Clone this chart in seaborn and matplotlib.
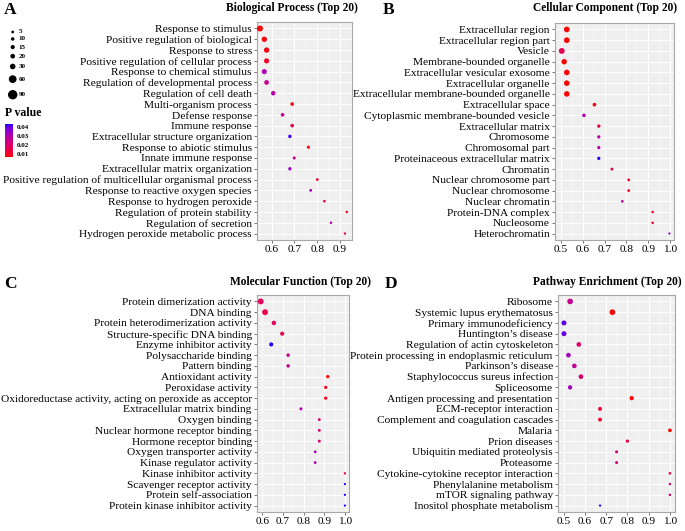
import numpy as np
import pandas as pd
import matplotlib
matplotlib.use("Agg")
import matplotlib.pyplot as plt
import seaborn as sns
from matplotlib.colors import ListedColormap, Normalize
from matplotlib.ticker import MultipleLocator, FormatStrFormatter
import matplotlib as mpl

# ---------------- data ----------------
bp_terms = ["Response to stimulus", "Positive regulation of biological", "Response to stress",
            "Positive regulation of cellular process", "Response to chemical stimulus",
            "Regulation of developmental process", "Regulation of cell death", "Multi-organism process",
            "Defense response", "Immune response", "Extracellular structure organization",
            "Response to abiotic stimulus", "Innate immune response", "Extracellular matrix organization",
            "Positive regulation of multicellular organismal process", "Response to reactive oxygen species",
            "Response to hydrogen peroxide", "Regulation of protein stability", "Regulation of secretion",
            "Hydrogen peroxide metabolic process"]
bp_ratio = [0.549, 0.568, 0.578, 0.578, 0.568, 0.578, 0.607, 0.690, 0.648, 0.690,
            0.680, 0.761, 0.699, 0.680, 0.800, 0.771, 0.831, 0.929, 0.860, 0.921]
bp_count = [47, 37, 37, 33, 33, 28, 24, 15, 15, 15, 13, 10, 10, 12, 7, 7, 6, 5, 5, 4]
bp_p = [0.005, 0.008, 0.008, 0.010, 0.031, 0.026, 0.030, 0.008, 0.027, 0.014,
        0.042, 0.007, 0.025, 0.034, 0.010, 0.032, 0.015, 0.009, 0.030, 0.018]

cc_terms = ["Extracellular region", "Extracellular region part", "Vesicle", "Membrane-bounded organelle",
            "Extracellular vesicular exosome", "Extracellular organelle",
            "Extracellular membrane-bounded organelle", "Extracellular space",
            "Cytoplasmic membrane-bounded vesicle", "Extracellular matrix", "Chromosome",
            "Chromosomal part", "Proteinaceous extracellular matrix", "Chromatin",
            "Nuclear chromosome part", "Nuclear chromosome", "Nuclear chromatin",
            "Protein-DNA complex", "Nucleosome", "Heterochromatin"]
cc_ratio = [0.526, 0.526, 0.503, 0.514, 0.526, 0.526, 0.526, 0.653, 0.605, 0.673,
            0.673, 0.673, 0.673, 0.733, 0.810, 0.810, 0.781, 0.920, 0.920, 0.997]
cc_count = [42, 42, 45, 38, 40, 40, 40, 15, 14, 12, 11, 11, 11, 8, 7, 7, 6, 5, 5, 3]
cc_p = [0.003, 0.003, 0.016, 0.006, 0.003, 0.003, 0.003, 0.008, 0.030, 0.012,
        0.030, 0.030, 0.043, 0.015, 0.008, 0.008, 0.028, 0.010, 0.012, 0.038]

mf_terms = ["Protein dimerization activity", "DNA binding", "Protein heterodimerization activity",
            "Structure-specific DNA binding", "Enzyme inhibitor activity", "Polysaccharide binding",
            "Pattern binding", "Antioxidant activity", "Peroxidase activity",
            "Oxidoreductase activity, acting on peroxide as acceptor", "Extracellular matrix binding",
            "Oxygen binding", "Nuclear hormone receptor binding", "Hormone receptor binding",
            "Oxygen transporter activity", "Kinase regulator activity", "Kinase inhibitor activity",
            "Scavenger receptor activity", "Protein self-association", "Protein kinase inhibitor activity"]
mf_ratio = [0.592, 0.613, 0.656, 0.696, 0.643, 0.725, 0.725, 0.917, 0.907, 0.907,
            0.787, 0.876, 0.876, 0.876, 0.856, 0.856, 1.000, 1.000, 1.000, 1.000]
mf_count = [45, 45, 25, 20, 20, 13, 13, 12, 11, 11, 9, 8, 8, 8, 7, 7, 4, 3, 3, 3]
mf_p = [0.018, 0.015, 0.018, 0.016, 0.043, 0.027, 0.027, 0.006, 0.008, 0.008,
        0.030, 0.019, 0.019, 0.019, 0.033, 0.032, 0.018, 0.043, 0.043, 0.043]

pw_terms = ["Ribosome", "Systemic lupus erythematosus", "Primary immunodeficiency", "Huntington\u2019s disease",
            "Regulation of actin cytoskeleton", "Protein processing in endoplasmic reticulum",
            "Parkinson\u2019s disease", "Staphylococcus sureus infection", "Spliceosome",
            "Antigen processing and presentation", "ECM-receptor interaction",
            "Complement and coagulation cascades", "Malaria", "Prion diseases",
            "Ubiquitin mediated proteolysis", "Proteasome", "Cytokine-cytokine receptor interaction",
            "Phenylalanine metabolism", "mTOR signaling pathway", "Inositol phosphate metabolism"]
pw_ratio = [0.530, 0.729, 0.501, 0.501, 0.571, 0.522, 0.550, 0.581, 0.530, 0.820,
            0.671, 0.671, 1.000, 0.800, 0.749, 0.749, 1.000, 1.000, 1.000, 0.671]
pw_count = [42, 42, 32, 32, 27, 27, 27, 27, 23, 22, 18, 18, 15, 11, 9, 9, 6, 5, 5, 3]
pw_p = [0.026, 0.005, 0.040, 0.040, 0.020, 0.033, 0.027, 0.020, 0.033, 0.006,
        0.012, 0.012, 0.005, 0.014, 0.022, 0.022, 0.015, 0.020, 0.020, 0.043]

legend_sizes = [5, 10, 15, 20, 30, 60, 90]
cbar_ticks = [0.01, 0.02, 0.03, 0.04]

# ---------------- style ----------------
W, H = 685, 531
plt.rcParams["font.family"] = ["Liberation Serif", "DejaVu Serif"]

def lab_ramp(lab0, lab1, n=256):
    t = np.linspace(0, 1, n)[:, None]
    lab = np.array(lab0)[None, :] * (1 - t) + np.array(lab1)[None, :] * t
    L, a, b = lab[:, 0], lab[:, 1], lab[:, 2]
    fy = (L + 16) / 116
    fx = fy + a / 500
    fz = fy - b / 200
    finv = lambda v: np.where(v > 6 / 29, v ** 3, 3 * (6 / 29) ** 2 * (v - 4 / 29))
    XYZ = np.vstack([0.95047 * finv(fx), finv(fy), 1.08883 * finv(fz)])
    M = np.array([[3.2406, -1.5372, -0.4986], [-0.9689, 1.8758, 0.0415], [0.0557, -0.2040, 1.0570]])
    lin = np.clip(M @ XYZ, 0, None)
    rgb = np.where(lin <= 0.0031308, 12.92 * lin, 1.055 * lin ** (1 / 2.4) - 0.055)
    return np.clip(rgb.T, 0, 1)

cmap = ListedColormap(lab_ramp((53.24, 80.09, 67.20), (32.30, 79.19, -107.86)))
norm = Normalize(vmin=0.0067, vmax=0.0433, clip=True)
SIZES = (1.5, 34.0)  # points^2 for count 0 .. 90

fig = plt.figure(figsize=(W / 100, H / 100), dpi=100)

def rect(x0, x1, top, bottom):
    return [x0 / W, 1 - bottom / H, (x1 - x0) / W, (bottom - top) / H]

def panel(r, terms, ratio, count, p, xlim, title, title_x, title_y, letter, letter_x):
    ax = fig.add_axes(r)
    df = pd.DataFrame({"term": terms, "ratio": ratio, "count": count, "p": p})
    sns.scatterplot(data=df, x="ratio", y="term", hue="p", size="count", palette=cmap,
                    hue_norm=norm, sizes=SIZES, size_norm=(0, 90), linewidth=0,
                    legend=False, ax=ax, zorder=3)
    ax.set_ylim(len(terms) - 0.4, -0.6)
    ax.set_xlim(*xlim)
    ax.set_facecolor("#EFEFEF")
    ax.xaxis.set_major_locator(MultipleLocator(0.1))
    ax.xaxis.set_minor_locator(MultipleLocator(0.05))
    ax.xaxis.set_major_formatter(FormatStrFormatter("%.1f"))
    ax.grid(which="major", color="white", lw=0.7)
    ax.grid(which="minor", axis="x", color="white", lw=0.35)
    ax.set_axisbelow(True)
    for s in ax.spines.values():
        s.set_color("#A8A8A8")
        s.set_linewidth(0.8)
    ax.tick_params(axis="both", which="major", length=2.2, width=0.6, color="#606060",
                   labelsize=8.2, pad=1.5, labelcolor="black")
    ax.tick_params(axis="both", which="minor", length=0)
    ax.set_xlabel("")
    ax.set_ylabel("")
    fig.text(title_x / W, 1 - title_y / H, title, fontsize=8.3, fontweight="bold",
             ha="left", va="center")
    fig.text(letter_x / W, 1 - (title_y + 2) / H, letter, fontsize=12.5, fontweight="bold",
             ha="left", va="center")
    return ax

panel(rect(257, 352, 22, 240), bp_terms, bp_ratio, bp_count, bp_p, (0.536, 0.952),
      "Biological Process (Top 20)", 226, 8, "A", 4)
panel(rect(555, 674, 23, 240), cc_terms, cc_ratio, cc_count, cc_p, (0.472, 1.018),
      "Cellular Component (Top 20)", 533, 8, "B", 383)
panel(rect(257, 349, 295, 512), mf_terms, mf_ratio, mf_count, mf_p, (0.574, 1.020),
      "Molecular Function (Top 20)", 230, 282, "C", 4)
panel(rect(558, 675, 295, 512), pw_terms, pw_ratio, pw_count, pw_p, (0.473, 1.024),
      "Pathway Enrichment (Top 20)", 533, 282, "D", 385)

# ---------------- size legend ----------------
lax = fig.add_axes([0, 1 - 100 / H, 40 / W, 75 / H])
lax.set_xlim(0, 40)
lax.set_ylim(100, 25)
lax.axis("off")
diam = 7.3 * np.sqrt(np.array(legend_sizes) / 90)
ys = [32.0]
for i in range(1, len(legend_sizes)):
    ys.append(ys[-1] + 3 + 1.9 * (diam[i - 1] + diam[i]) / 2)
ldf = pd.DataFrame({"x": [12.7] * len(legend_sizes), "y": ys, "n": legend_sizes})
sns.scatterplot(data=ldf, x="x", y="y", size="n", sizes=(SIZES[0], SIZES[1] * 1.35),
                size_norm=(0, 90), color="black", linewidth=0, legend=False, ax=lax)
lax.set_xlabel("")
lax.set_ylabel("")
for yv, n in zip(ys, legend_sizes):
    lax.text(18.5, yv, str(n), fontsize=5, fontweight="bold", ha="left", va="center")

# ---------------- colour bar ----------------
fig.text(5 / W, 1 - 113 / H, "P value", fontsize=8.5, fontweight="bold", ha="left", va="center")
cax = fig.add_axes(rect(5, 13, 124, 157))
cb = mpl.colorbar.ColorbarBase(cax, cmap=cmap, norm=Normalize(vmin=0.0067, vmax=0.0433),
                               orientation="vertical")
cb.outline.set_visible(False)
cb.set_ticks(cbar_ticks)
cb.set_ticklabels(["%.2f" % v for v in cbar_ticks])
cax.tick_params(length=0, labelsize=5, pad=2.5)
for t in cax.get_yticklabels():
    t.set_fontweight("bold")

fig.savefig("out.png", dpi=100)
